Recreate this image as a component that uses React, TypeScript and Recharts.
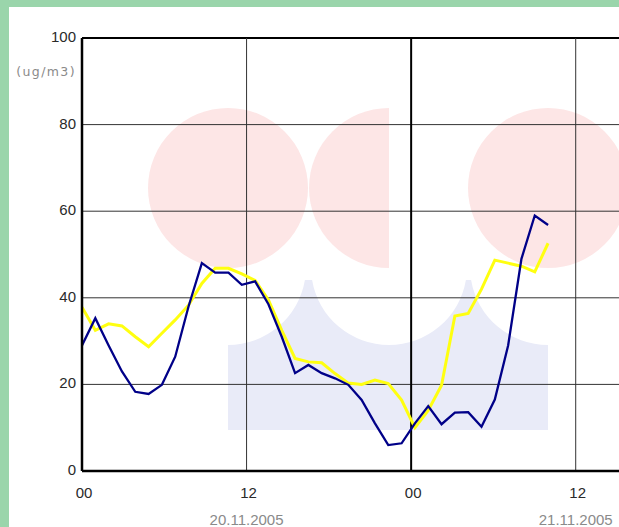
import React from "react";
import { LineChart, Line, XAxis, YAxis, ReferenceLine, Customized } from "recharts";

// hourly-ish samples, one every ~0.97 h from 00:00 on 20.11.2005
const SAMPLE_STEP_H = 0.971;
const BLUE = [
  29, 35.3, 29, 23, 18.3, 17.8, 19.9, 26.4, 38, 48, 45.8, 45.8, 43, 43.8, 38.5, 31,
  22.6, 24.5, 22.6, 21.4, 19.9, 16.4, 11, 6, 6.4, 11, 15, 10.8, 13.5, 13.6, 10.2, 16.5,
  29, 49, 59, 56.8,
];
const YELLOW = [
  37.8, 32.5, 34, 33.5, 31, 28.7, 31.8, 34.9, 38.3, 43.3, 46.8, 46.8, 45.5, 44, 39.5, 32.5,
  26, 25.2, 25, 22.5, 20.3, 20, 21, 20.2, 16.4, 10, 14, 19.8, 35.8, 36.4, 42, 48.7,
  48, 47.3, 46, 52.6,
];
const X_TICKS = [0, 12, 24, 36];
const HOUR_LABELS = ["00", "12", "00", "12"];
const DATE_LABELS = ["", "20.11.2005", "", "21.11.2005"];
const Y_TICKS = [0, 20, 40, 60, 80, 100];
const UNIT = "(ug/m3)";

const data = BLUE.map((v, i) => ({ t: i * SAMPLE_STEP_H, blue: v, yellow: YELLOW[i] }));

const FONT = "'Liberation Sans', Arial, sans-serif";

function XTick(props: any) {
  const { x, y, payload } = props;
  const i = X_TICKS.indexOf(payload.value);
  return (
    <g>
      <text x={x + 2} y={y + 25} textAnchor="middle" fontSize={15} fill="#2a2a2a" fontFamily={FONT}>
        {HOUR_LABELS[i]}
      </text>
      <text x={x} y={y + 52} textAnchor="middle" fontSize={15} fill="#8a8a8a" fontFamily={FONT}>
        {DATE_LABELS[i]}
      </text>
    </g>
  );
}

function YTick(props: any) {
  const { y, payload } = props;
  return (
    <text x={76} y={y + 4} textAnchor="end" fontSize={15} fill="#2a2a2a" fontFamily={FONT}>
      {payload.value}
    </text>
  );
}

// faint logo behind the plot
function Watermark() {
  return (
    <g>
      <circle cx={228} cy={188} r={80} fill="#fde6e6" />
      <path d="M389,108 A80,80 0 0 0 389,268 Z" fill="#fde6e6" />
      <circle cx={548} cy={188} r={80} fill="#fde6e6" />
      <path
        d="M228,345 A78,78 0 0 0 304.9,280 L312.1,280 A78,78 0 0 0 389,345 A78,78 0 0 0 465.9,280 L471.1,280 A78,78 0 0 0 548,345 L548,430 L228,430 Z"
        fill="#e9ebf8"
      />
      <text x={76} y={76} textAnchor="end" fontSize={12.5} fill="#8a8a8a" letterSpacing={1.4} fontFamily="'DejaVu Sans', Verdana, sans-serif">
        {UNIT}
      </text>
    </g>
  );
}

export default function App() {
  return (
    <div
      style={{
        width: 619,
        height: 527,
        overflow: "hidden",
        position: "relative",
        background: "#9ad5ab",
        fontFamily: FONT,
      }}
    >
      <style>{"html,body{margin:0;padding:0;overflow:hidden}"}</style>
      <div style={{ position: "absolute", left: 9, top: 7, right: 0, bottom: 0, background: "#fff" }} />
      <div style={{ position: "absolute", left: 0, top: 0 }}>
        <LineChart width={658} height={527} data={data} margin={{ top: 38, right: 0, left: 0, bottom: 0 }}>
          <Customized component={<Watermark />} />
          <XAxis
            dataKey="t"
            type="number"
            domain={[0, 42]}
            ticks={X_TICKS}
            height={56}
            tickLine={false}
            tickSize={0}
            tick={<XTick />}
            axisLine={{ stroke: "#000", strokeWidth: 2.5 }}
            allowDataOverflow
          />
          <YAxis
            type="number"
            domain={[0, 100]}
            ticks={Y_TICKS}
            width={82}
            tickLine={false}
            tickSize={0}
            tick={<YTick />}
            axisLine={{ stroke: "#000", strokeWidth: 2.5 }}
          />
          {Y_TICKS.slice(1, -1).map((v) => (
            <ReferenceLine key={"y" + v} y={v} stroke="#333" strokeWidth={1} />
          ))}
          <ReferenceLine y={100} stroke="#000" strokeWidth={2} />
          <ReferenceLine x={12} stroke="#333" strokeWidth={1} />
          <ReferenceLine x={24} stroke="#000" strokeWidth={2} />
          <ReferenceLine x={36} stroke="#333" strokeWidth={1} />
          <Line
            type="linear"
            dataKey="yellow"
            stroke="#ffff10"
            strokeWidth={3}
            dot={false}
            isAnimationActive={false}
          />
          <Line
            type="linear"
            dataKey="blue"
            stroke="#000088"
            strokeWidth={2.3}
            dot={false}
            isAnimationActive={false}
          />
        </LineChart>
      </div>
    </div>
  );
}
